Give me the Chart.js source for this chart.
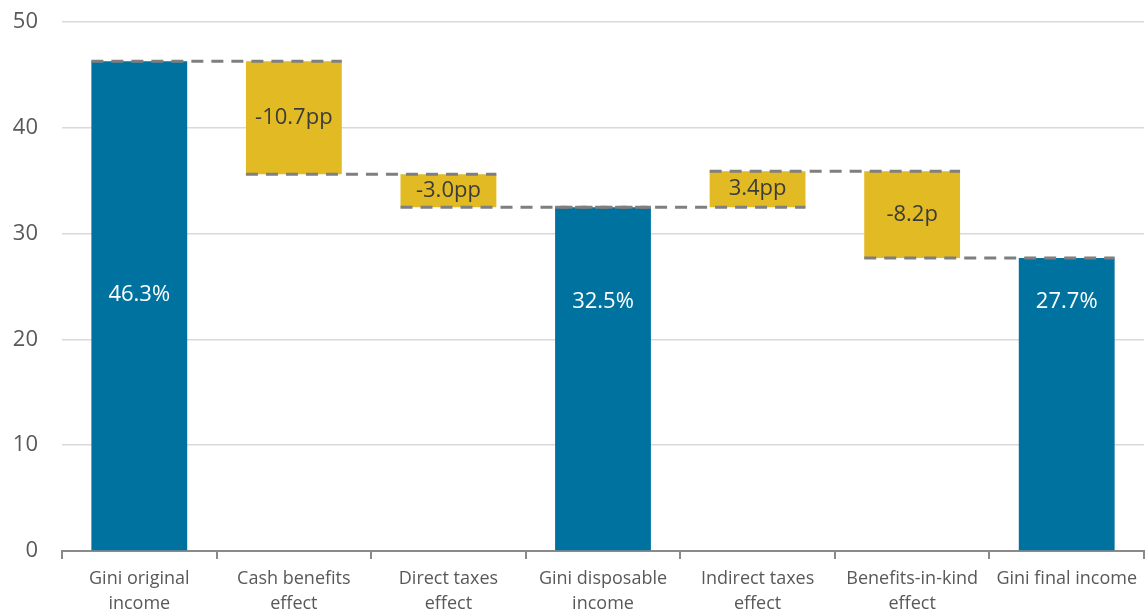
<!DOCTYPE html>
<html>
<head>
<meta charset="utf-8">
<script src="https://cdn.jsdelivr.net/npm/chart.js@4/dist/chart.umd.min.js"></script>
<style>
  html, body { margin: 0; padding: 0; background: #fff; }
  #wrap { width: 1146px; height: 616px; position: relative; }
</style>
</head>
<body>
<div id="wrap"><canvas id="waterfall"></canvas></div>
<script>
const categories = [
    ['Gini original', 'income'],
    ['Cash benefits', 'effect'],
    ['Direct taxes', 'effect'],
    ['Gini disposable', 'income'],
    ['Indirect taxes', 'effect'],
    ['Benefits-in-kind', 'effect'],
    ['Gini final income']
];
const barStart = [0, 46.3, 35.6, 0, 32.5, 35.9, 0];
const barEnd = [46.3, 35.6, 32.5, 32.5, 35.9, 27.7, 27.7];
const barLabels = ['46.3%', '-10.7pp', '-3.0pp', '32.5%', '3.4pp', '-8.2p', '27.7%'];
const isTotal = [true, false, false, true, false, false, true];
const yTicks = [0, 10, 20, 30, 40, 50];

const BLUE = '#0072a0';
const YELLOW = '#e2ba24';
const FONT = '"Open Sans", "Noto Sans", sans-serif';

const barData = barStart.map((s, i) => [s, barEnd[i]]);

// dashed connectors + labels in bars
const waterfallExtras = {
    id: 'waterfallExtras',
    afterDatasetsDraw(chart) {
        const ctx = chart.ctx;
        const meta = chart.getDatasetMeta(0);
        const y = chart.scales.y;
        ctx.save();
        ctx.strokeStyle = '#7f7f7f';
        ctx.lineWidth = 3;
        ctx.setLineDash([12, 8]);
        for (let i = 0; i < meta.data.length - 1; i++) {
            const a = meta.data[i], b = meta.data[i + 1];
            const py = y.getPixelForValue(barEnd[i]);
            ctx.beginPath();
            ctx.moveTo(a.x - a.width / 2, py);
            ctx.lineTo(b.x + b.width / 2, py);
            ctx.stroke();
        }
        ctx.setLineDash([]);
        ctx.font = '22px ' + FONT;
        ctx.textAlign = 'center';
        ctx.textBaseline = 'middle';
        meta.data.forEach((bar, i) => {
            let py;
            if (isTotal[i]) {
                ctx.fillStyle = '#ffffff';
                py = y.getPixelForValue(i === 0 ? 24.2 : 23.6);
            } else {
                ctx.fillStyle = '#3b3b3b';
                py = y.getPixelForValue((barStart[i] + barEnd[i]) / 2);
            }
            ctx.fillText(barLabels[i], bar.x, py);
        });
        ctx.restore();
    }
};

new Chart(document.getElementById('waterfall'), {
    type: 'bar',
    data: {
        labels: categories,
        datasets: [{
            data: barData,
            backgroundColor: isTotal.map(t => t ? BLUE : YELLOW),
            borderWidth: 0,
            borderSkipped: false,
            barPercentage: 0.62,
            categoryPercentage: 1
        }]
    },
    options: {
        responsive: true,
        maintainAspectRatio: false,
        animation: false,
        layout: { padding: { top: 22, right: 2, left: 0, bottom: 0 } },
        plugins: {
            legend: { display: false },
            tooltip: { enabled: false }
        },
        scales: {
            x: {
                offset: true,
                grid: {
                    display: true,
                    drawOnChartArea: false,
                    drawTicks: true,
                    tickLength: 8,
                    color: '#8a8a8a',
                    lineWidth: 2,
                    offset: true
                },
                border: { display: true, color: '#8a8a8a', width: 2 },
                ticks: {
                    color: '#595959',
                    font: { family: FONT, size: 18, lineHeight: 1.35 },
                    padding: 8,
                    maxRotation: 0,
                    autoSkip: false
                },
                afterFit(scale) { scale.height = 65; }
            },
            y: {
                min: 0,
                max: 50,
                afterBuildTicks(scale) { scale.ticks = yTicks.map(v => ({ value: v })); },
                grid: { color: '#d9d9d9', lineWidth: 1.5, drawTicks: false },
                border: { display: false },
                ticks: {
                    color: '#595959',
                    font: { family: FONT, size: 22 },
                    padding: 24
                },
                afterFit(scale) {
                    scale.width = 62;
                    scale.paddingTop = 0;
                    scale.paddingBottom = 0;
                }
            }
        }
    },
    plugins: [waterfallExtras]
});
</script>
</body>
</html>
